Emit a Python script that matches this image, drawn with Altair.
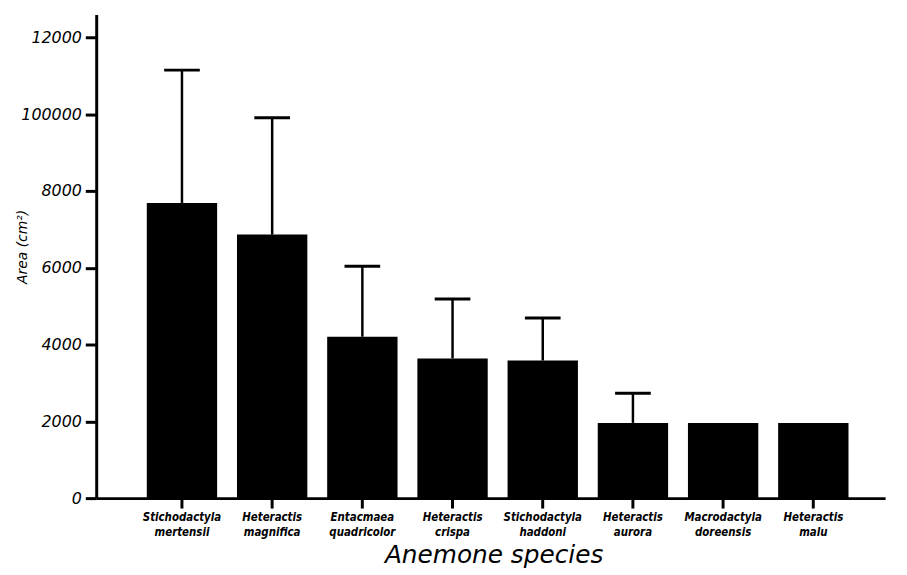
import altair as alt
import pandas as pd

species = [
    "Stichodactyla mertensii",
    "Heteractis magnifica",
    "Entacmaea quadricolor",
    "Heteractis crispa",
    "Stichodactyla haddoni",
    "Heteractis aurora",
    "Macrodactyla doreensis",
    "Heteractis malu",
]
means = [7690, 6865, 4205, 3640, 3585, 1960, 1960, 1960]
upper = [11150, 9910, 6040, 5185, 4695, 2735, None, None]

y_ticks = [0, 2000, 4000, 6000, 8000, 10000, 12000]
y_tick_labels = ["0", "2000", "4000", "6000", "8000", "100000", "12000"]

bars_df = pd.DataFrame({"species": species, "mean": means})
err_df = pd.DataFrame(
    [{"species": s, "mean": m, "upper": u} for s, m, u in zip(species, means, upper) if u is not None]
)

label_expr = "datum.label"
for v, l in reversed(list(zip(y_ticks, y_tick_labels))):
    label_expr = f"datum.value == {v} ? '{l}' : ({label_expr})"

FONT = "DejaVu Sans"
FONT_C = "DejaVu Sans Condensed"

x_enc = alt.X(
    "species:N",
    sort=species,
    scale=alt.Scale(paddingInner=0.22, paddingOuter=0.4835, align=0.58),
    axis=alt.Axis(
        title="Anemone species",
        labelAngle=0,
        labelExpr="split(datum.label, ' ')",
        labelFont=FONT_C,
        labelFontStyle="italic",
        labelFontWeight="bold",
        labelFontSize=11.5,
        labelLineHeight=15,
        labelColor="black",
        labelPadding=4,
        tickSize=10,
        tickWidth=3,
        tickColor="black",
        domainWidth=3,
        domainColor="black",
        titleFont=FONT,
        titleFontStyle="italic",
        titleFontWeight="normal",
        titleFontSize=25,
        titleColor="black",
        titleX=401,
        titleY=65,
        titleBaseline="alphabetic",
    ),
)

y_scale = alt.Scale(domain=[0, 12600], nice=False)
y_axis = alt.Axis(
    values=y_ticks,
    labelExpr=label_expr,
    title="Area (cm²)",
    grid=False,
    labelFont=FONT,
    labelFontStyle="italic",
    labelFontSize=16,
    labelColor="black",
    labelPadding=4,
    tickSize=11,
    tickWidth=3,
    tickColor="black",
    domainWidth=3,
    domainColor="black",
    titleFont=FONT,
    titleFontStyle="italic",
    titleFontWeight="normal",
    titleFontSize=14,
    titleColor="black",
    titleX=-74,
    titleY=234,
    titleAngle=270,
    titleAlign="center",
    titleBaseline="middle",
)

bars = alt.Chart(bars_df).mark_bar(color="black").encode(
    x=x_enc,
    y=alt.Y("mean:Q", scale=y_scale, axis=y_axis),
)

rules = alt.Chart(err_df).mark_rule(color="black", strokeWidth=2.5).encode(
    x=alt.X("species:N", sort=species),
    y=alt.Y("mean:Q"),
    y2=alt.Y2("upper:Q"),
)

caps = alt.Chart(err_df).mark_tick(color="black", opacity=1, size=36, thickness=3).encode(
    x=alt.X("species:N", sort=species),
    y=alt.Y("upper:Q"),
)

chart = (
    alt.layer(bars, rules, caps)
    .properties(
        width=796,
        height=488,
        background="white",
        autosize=alt.AutoSizeParams(type="none"),
        padding={"left": 89, "top": 4, "right": 14, "bottom": 72},
    )
    .configure_view(strokeWidth=0, stroke="transparent")
)

chart.save("out.html", embed_options={"renderer": "svg", "actions": False})
